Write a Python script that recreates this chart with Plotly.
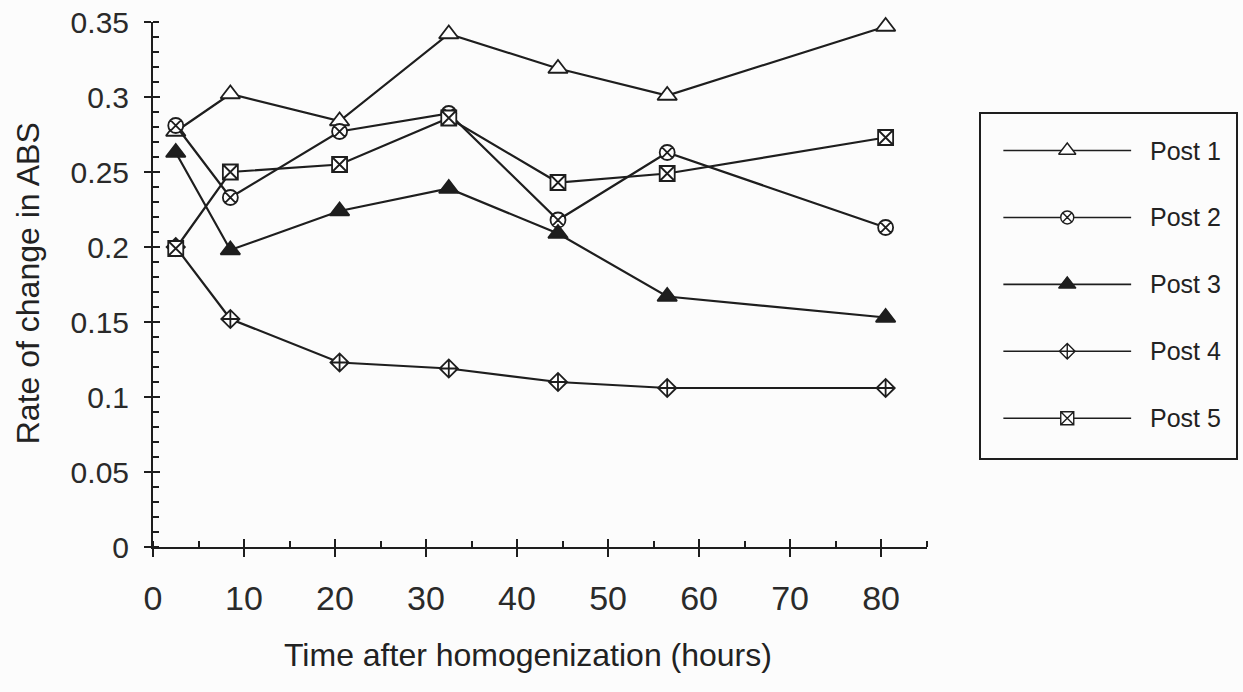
import plotly.graph_objects as go

# Sampling times (hours after homogenization)
hours = [2.5, 8.5, 20.5, 32.5, 44.5, 56.5, 80.5]

# Rate of change in ABS for each post
post1 = [0.277, 0.302, 0.284, 0.342, 0.319, 0.301, 0.347]
post2 = [0.281, 0.233, 0.277, 0.289, 0.218, 0.263, 0.213]
post3 = [0.263, 0.198, 0.224, 0.239, 0.209, 0.167, 0.153]
post4 = [0.200, 0.152, 0.123, 0.119, 0.110, 0.106, 0.106]
post5 = [0.199, 0.250, 0.255, 0.286, 0.243, 0.249, 0.273]

series_names = ["Post 1", "Post 2", "Post 3", "Post 4", "Post 5"]
series_values = [post1, post2, post3, post4, post5]

x_ticks = [0, 10, 20, 30, 40, 50, 60, 70, 80]
y_ticks = [0, 0.05, 0.1, 0.15, 0.2, 0.25, 0.3, 0.35]
y_tick_text = ["0", "0.05", "0.1", "0.15", "0.2", "0.25", "0.3", "0.35"]

INK = "#1e1e1e"
FONT = "Liberation Sans, Arial, Helvetica, sans-serif"

# marker styles: symbol, fill, size
styles = [
    ("triangle-up", "white", 17),
    ("circle-x", "white", 15),
    ("triangle-up", INK, 17),
    ("diamond-cross", "white", 14),
    ("square-x", "white", 15),
]

fig = go.Figure()

for name, vals, (sym, fill, size) in zip(series_names, series_values, styles):
    fig.add_trace(go.Scatter(
        x=hours, y=vals, name=name, mode="lines+markers",
        line=dict(color=INK, width=2.2),
        marker=dict(symbol=sym, color=fill, size=size,
                    line=dict(color=INK, width=1.8)),
        showlegend=False, xaxis="x", yaxis="y", cliponaxis=False,
    ))

# invisible trace so the overlay axes (inner half of the major ticks) render
fig.add_trace(go.Scatter(x=[None], y=[None], xaxis="x2", yaxis="y2",
                         showlegend=False, hoverinfo="skip"))

# boxed key drawn on its own small axes
leg_line_x = [0.086, 0.588]
leg_mark_x = 0.337
leg_text_x = 0.655
for i, (name, (sym, fill, size)) in enumerate(zip(series_names, styles), start=1):
    fig.add_trace(go.Scatter(
        x=leg_line_x, y=[i, i], mode="lines",
        line=dict(color=INK, width=1.6),
        xaxis="x3", yaxis="y3", showlegend=False, hoverinfo="skip",
    ))
    fig.add_trace(go.Scatter(
        x=[leg_mark_x], y=[i], mode="markers",
        marker=dict(symbol=sym, color=fill, size=size - 2,
                    line=dict(color=INK, width=1.4)),
        xaxis="x3", yaxis="y3", showlegend=False, hoverinfo="skip",
    ))
    fig.add_annotation(
        x=leg_text_x, y=i, xref="x3", yref="y3", text=name,
        showarrow=False, xanchor="left", yanchor="middle",
        font=dict(family=FONT, size=25, color="#222"),
    )

main_dom_x = [0, 775 / 1085]

fig.update_layout(
    width=1243, height=692,
    margin=dict(l=153, r=5, t=20, b=145),
    paper_bgcolor="#fcfcfc", plot_bgcolor="rgba(0,0,0,0)",
    font=dict(family=FONT, color="#222"),
    showlegend=False,
    xaxis=dict(
        domain=main_dom_x, range=[0, 85], showgrid=False, zeroline=False,
        showline=True, linecolor=INK, linewidth=2,
        tickmode="array", tickvals=x_ticks,
        ticks="outside", ticklen=8, tickwidth=2, tickcolor=INK,
        minor=dict(ticks="inside", ticklen=6, tickwidth=2, tickcolor=INK, dtick=5, tick0=0),
        tickfont=dict(family=FONT, size=34, color="#2a2a2a"),
        ticklabelstandoff=12,
        anchor="y",
    ),
    yaxis=dict(
        range=[0, 0.35], showgrid=False, zeroline=False,
        showline=True, linecolor=INK, linewidth=2,
        tickmode="array", tickvals=y_ticks, ticktext=y_tick_text,
        ticks="outside", ticklen=7, tickwidth=2, tickcolor=INK,
        minor=dict(ticks="inside", ticklen=6, tickwidth=2, tickcolor=INK, dtick=0.01, tick0=0),
        tickfont=dict(family=FONT, size=30, color="#2a2a2a"),
        ticklabelstandoff=9,
        anchor="x",
    ),
    xaxis2=dict(
        domain=main_dom_x, range=[0, 85], overlaying="x", anchor="y2",
        showgrid=False, zeroline=False, showline=False, showticklabels=False,
        tickmode="array", tickvals=x_ticks,
        ticks="inside", ticklen=8, tickwidth=2, tickcolor=INK,
    ),
    yaxis2=dict(
        range=[0, 0.35], overlaying="y", anchor="x2", side="left",
        showgrid=False, zeroline=False, showline=False, showticklabels=False,
        tickmode="array", tickvals=y_ticks,
        ticks="inside", ticklen=7, tickwidth=2, tickcolor=INK,
    ),
    xaxis3=dict(
        domain=[(983 - 153) / 1085, (1238 - 153) / 1085], range=[0, 1],
        anchor="y3", showgrid=False, zeroline=False, showticklabels=False,
        showline=True, mirror=True, linecolor=INK, linewidth=1.5, ticks="",
    ),
    yaxis3=dict(
        domain=[(547 - 458) / 527, (547 - 112) / 527], range=[5.6, 0.449],
        anchor="x3", showgrid=False, zeroline=False, showticklabels=False,
        showline=True, mirror=True, linecolor=INK, linewidth=1.5, ticks="",
    ),
)

# axis titles
fig.add_annotation(
    x=(529 - 153) / 1085, y=(547 - 655) / 527, xref="paper", yref="paper",
    text="Time after homogenization (hours)", showarrow=False,
    xanchor="center", yanchor="middle",
    font=dict(family=FONT, size=32, color="#222"),
)
fig.add_annotation(
    x=(28 - 153) / 1085, y=(547 - 282) / 527, xref="paper", yref="paper",
    text="Rate of change in ABS", showarrow=False, textangle=-90,
    xanchor="center", yanchor="middle",
    font=dict(family=FONT, size=32, color="#222"),
)

fig.write_html("out.html")
